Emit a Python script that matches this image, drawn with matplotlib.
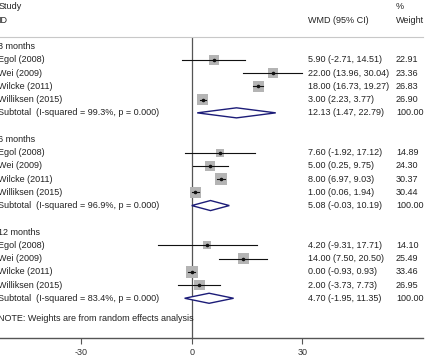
import numpy as np
import matplotlib
matplotlib.use('Agg')
import matplotlib.pyplot as plt
from matplotlib.patches import Polygon
import matplotlib.transforms as mtransforms

plt.rcParams['font.family'] = ['Liberation Sans', 'DejaVu Sans']

# data
groups = ['3 months', '6 months', '12 months']
studies = ['Egol (2008)', 'Wei (2009)', 'Wilcke (2011)', 'Williksen (2015)']
wmd = [[5.90, 22.00, 18.00, 3.00],
       [7.60, 5.00, 8.00, 1.00],
       [4.20, 14.00, 0.00, 2.00]]
lo = [[-2.71, 13.96, 16.73, 2.23],
      [-1.92, 0.25, 6.97, 0.06],
      [-9.31, 7.50, -0.93, -3.73]]
hi = [[14.51, 30.04, 19.27, 3.77],
      [17.12, 9.75, 9.03, 1.94],
      [17.71, 20.50, 0.93, 7.73]]
weight = [[22.91, 23.36, 26.83, 26.90],
          [14.89, 24.30, 30.37, 30.44],
          [14.10, 25.49, 33.46, 26.95]]
sub_est = [12.13, 5.08, 4.70]
sub_lo = [1.47, -0.03, -1.95]
sub_hi = [22.79, 10.19, 11.35]
i2 = ['99.3%', '96.9%', '83.4%']
pval = ['0.000', '0.000', '0.000']
xticks = [-30, 0, 30]

W, H = 429, 359
fig = plt.figure(figsize=(W / 100, H / 100), dpi=100)
ax_bottom, ax_top = 338, 36.7
ax = fig.add_axes([0, 1 - ax_bottom / H, 423 / W, (ax_bottom - ax_top) / H])
ppu = 221 / 60.0
x0 = 191.8
ax.set_xlim(-x0 / ppu, (423 - x0) / ppu)
ax.set_ylim(22, -0.75)

for s in ['left', 'right']:
    ax.spines[s].set_visible(False)
ax.spines['top'].set_color('#c8c8c8')
ax.spines['top'].set_linewidth(0.8)
ax.spines['bottom'].set_color('#555555')
ax.spines['bottom'].set_linewidth(1.0)
ax.set_yticks([])
ax.set_xticks(xticks)
ax.set_xticklabels([str(t) for t in xticks])
ax.tick_params(axis='x', length=4, width=0.8, color='#555555', pad=3,
               labelsize=6.5, labelcolor='#333333')
ax.axvline(0, color='#555555', lw=0.9, zorder=1)

tcol = '#222222'
fs = 6.45
trans_fig_x = mtransforms.blended_transform_factory(fig.transFigure, ax.transData)
left_x = -1.5 / W
wmd_x = 308.5 / W
wt_x = 396 / W

def txt(x, y, s):
    ax.text(x, y, s, transform=trans_fig_x, fontsize=fs, color=tcol,
            va='center', ha='left', clip_on=False)

txt(left_x, -3, 'Study')
txt(left_x, -2, 'ID')
txt(wmd_x, -2, 'WMD (95% CI)')
txt(wt_x, -3, '%')
txt(wt_x, -2, 'Weight')

row = 0
for g in range(3):
    txt(left_x, row, groups[g])
    row += 1
    for k in range(4):
        ax.plot([lo[g][k], hi[g][k]], [row, row], color='#111111', lw=0.8, zorder=3)
        side_pt = 2.1 * np.sqrt(weight[g][k]) * 0.72
        ax.scatter([wmd[g][k]], [row], marker='s', s=side_pt ** 2,
                   color='#b4b4b4', edgecolors='none', zorder=2)
        ax.scatter([wmd[g][k]], [row], marker='o', s=2.5, color='#111111', zorder=4)
        txt(left_x, row, studies[k])
        txt(wmd_x, row, '%.2f (%.2f, %.2f)' % (wmd[g][k], lo[g][k], hi[g][k]))
        txt(wt_x, row, '%.2f' % weight[g][k])
        row += 1
    dh = 0.38
    diamond = Polygon([[sub_lo[g], row], [sub_est[g], row - dh],
                       [sub_hi[g], row], [sub_est[g], row + dh]],
                      closed=True, facecolor='white', edgecolor='#1c1c78',
                      lw=1.0, zorder=3)
    ax.add_patch(diamond)
    txt(left_x, row, 'Subtotal  (I-squared = %s, p = %s)' % (i2[g], pval[g]))
    txt(wmd_x, row, '%.2f (%.2f, %.2f)' % (sub_est[g], sub_lo[g], sub_hi[g]))
    txt(wt_x, row, '100.00')
    row += 2

txt(left_x, 20.5, 'NOTE: Weights are from random effects analysis')

fig.savefig('out.png', dpi=100)
